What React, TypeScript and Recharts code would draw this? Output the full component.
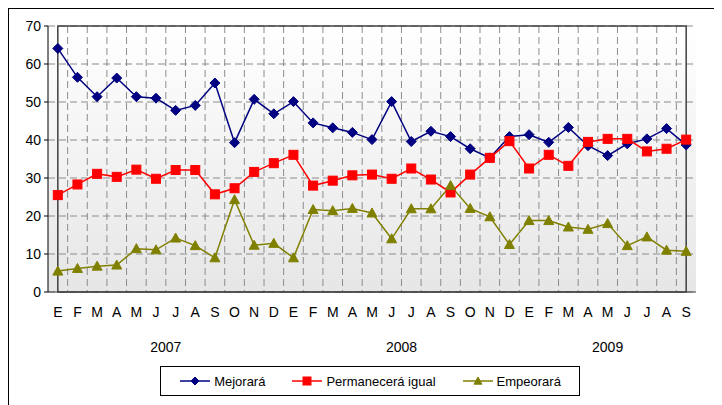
import React from 'react';
import {
  LineChart,
  Line,
  XAxis,
  YAxis,
  CartesianGrid,
  Legend,
  ReferenceArea,
} from 'recharts';

const months = [
  'E', 'F', 'M', 'A', 'M', 'J', 'J', 'A', 'S', 'O', 'N', 'D',
  'E', 'F', 'M', 'A', 'M', 'J', 'J', 'A', 'S', 'O', 'N', 'D',
  'E', 'F', 'M', 'A', 'M', 'J', 'J', 'A', 'S',
];
const years = ['2007', '2008', '2009'];
const yearStart = [0, 12, 24];
const yearLength = [12, 12, 9];

const mejorara = [
  64.1, 56.5, 51.4, 56.3, 51.4, 51.0, 47.8, 49.1, 55.0, 39.3, 50.7, 46.9,
  50.1, 44.5, 43.2, 42.0, 40.1, 50.1, 39.6, 42.3, 40.9, 37.7, 35.3, 40.9,
  41.4, 39.4, 43.3, 38.5, 35.9, 39.0, 40.3, 43.0, 38.7,
];
const permanecera = [
  25.5, 28.3, 31.1, 30.3, 32.2, 29.8, 32.1, 32.1, 25.7, 27.3, 31.6, 33.9,
  36.1, 28.0, 29.3, 30.7, 30.9, 29.8, 32.5, 29.6, 26.2, 30.9, 35.3, 39.7,
  32.5, 36.1, 33.2, 39.5, 40.3, 40.3, 37.0, 37.7, 40.1,
];
const empeorara = [
  5.5, 6.2, 6.8, 7.1, 11.4, 11.1, 14.2, 12.2, 9.0, 24.3, 12.3, 12.8,
  9.0, 21.7, 21.4, 22.0, 20.8, 14.0, 21.9, 21.9, 28.0, 22.0, 19.8, 12.5,
  18.8, 18.8, 17.1, 16.5, 18.0, 12.2, 14.5, 11.0, 10.7,
];
const yTicks = [0, 10, 20, 30, 40, 50, 60, 70];
const legendOrder = ['mejorara', 'permanecera', 'empeorara'];

const data = months.map((mes, i) => ({
  mes,
  mejorara: mejorara[i],
  permanecera: permanecera[i],
  empeorara: empeorara[i],
}));

const W = 709;
const H = 408;
const M = { top: 17, right: 22, left: 0, bottom: 55 };
const Y_W = 39;
const PLOT_W = W - M.left - M.right - Y_W;
const BAND = PLOT_W / months.length;
const FONT = '"Liberation Sans", Arial, sans-serif';

const NAVY = '#000080';
const RED = '#FF0000';
const OLIVE = '#808000';

const Diamond = ({ cx, cy, color, r = 5 }: any) => (
  <path d={`M${cx},${cy - r}L${cx + r},${cy}L${cx},${cy + r}L${cx - r},${cy}Z`} fill={color} stroke={color} />
);
const Square = ({ cx, cy, color, r = 4.5 }: any) => (
  <rect x={cx - r} y={cy - r} width={2 * r} height={2 * r} fill={color} stroke={color} />
);
const Triangle = ({ cx, cy, color, r = 5 }: any) => (
  <path d={`M${cx},${cy - r}L${cx + r},${cy + r * 0.8}L${cx - r},${cy + r * 0.8}Z`} fill={color} stroke={color} />
);

const shapes: Record<string, any> = {
  mejorara: Diamond,
  permanecera: Square,
  empeorara: Triangle,
};

const makeDot = (Shape: any, color: string) => (props: any) => (
  <Shape key={`dot-${props.index}`} cx={props.cx} cy={props.cy} color={color} />
);

// vertical dashed lines sit on the month boundaries, not on the tick centres
const boundaryLines = ({ offset }: any) => {
  const out: number[] = [];
  for (let i = 1; i < months.length; i++) out.push(offset.left + i * (offset.width / months.length));
  return out;
};

const YearTick = ({ x, y, payload }: any) => {
  const idx = payload.index;
  const k = yearStart.indexOf(idx);
  if (k < 0) return null;
  const cx = x + ((yearLength[k] - 1) / 2) * BAND;
  return (
    <text x={cx} y={y + 18} textAnchor="middle" fontSize={14} fontFamily={FONT} fill="#000">
      {years[k]}
    </text>
  );
};

const renderLegend = (props: any) => {
  const payload = [...(props.payload || [])].sort(
    (a: any, b: any) => legendOrder.indexOf(a.dataKey) - legendOrder.indexOf(b.dataKey)
  );
  return (
    <div style={{ display: 'flex', justifyContent: 'center', alignItems: 'center', height: '100%', gap: 26 }}>
      {payload.map((entry: any) => {
        const Shape = shapes[entry.dataKey];
        return (
          <div key={entry.dataKey} style={{ display: 'flex', alignItems: 'center' }}>
            <svg width={32} height={12}>
              <line x1={1} y1={6} x2={31} y2={6} stroke={entry.color} strokeWidth={1.5} />
              <Shape cx={16} cy={6} color={entry.color} r={4} />
            </svg>
            <span style={{ fontFamily: FONT, fontSize: 13, color: '#000', marginLeft: 3 }}>{entry.value}</span>
          </div>
        );
      })}
    </div>
  );
};

export default function App() {
  return (
    <div
      style={{
        width: W + 2,
        height: H + 2,
        border: '1px solid #000',
        boxSizing: 'border-box',
        background: '#fff',
        position: 'relative',
      }}
    >
      <LineChart width={W} height={H} data={data} margin={M}>
        <defs>
          <linearGradient id="plotBg" x1="0" y1="0" x2="0" y2="1">
            <stop offset="0%" stopColor="#ffffff" />
            <stop offset="100%" stopColor="#e6e6e6" />
          </linearGradient>
        </defs>
        <CartesianGrid
          stroke="#8c8c8c"
          strokeDasharray="7 4"
          fill="url(#plotBg)"
          verticalCoordinatesGenerator={boundaryLines}
        />
        <ReferenceArea y1={0} y2={70} fill="none" stroke="#404040" strokeWidth={1.5} />
        <XAxis
          dataKey="mes"
          interval={0}
          height={40}
          padding={{ left: BAND / 2, right: BAND / 2 }}
          tickLine={false}
          tickSize={0}
          tickMargin={15}
          axisLine={{ stroke: '#404040' }}
          tick={{ fontSize: 14, fontFamily: FONT, fill: '#000' }}
        />
        <XAxis
          xAxisId="year"
          dataKey="mes"
          interval={0}
          height={30}
          padding={{ left: BAND / 2, right: BAND / 2 }}
          tickLine={false}
          axisLine={false}
          tickSize={0}
          tick={<YearTick />}
        />
        <YAxis
          width={Y_W}
          domain={[0, 70]}
          ticks={yTicks}
          interval={0}
          tickSize={4}
          tickMargin={3}
          axisLine={{ stroke: '#000' }}
          tickLine={{ stroke: '#000' }}
          tick={{ fontSize: 14, fontFamily: FONT, fill: '#000' }}
        />
        <Legend
          layout="horizontal"
          verticalAlign="middle"
          align="center"
          content={renderLegend}
          wrapperStyle={{
            left: 151,
            top: 357,
            width: 420,
            height: 30,
            border: '1px solid #000',
            background: '#fff',
            boxSizing: 'border-box',
          }}
        />
        <Line
          dataKey="mejorara"
          name="Mejorará"
          stroke={NAVY}
          strokeWidth={1.5}
          dot={makeDot(Diamond, NAVY)}
          isAnimationActive={false}
        />
        <Line
          dataKey="permanecera"
          name="Permanecerá igual"
          stroke={RED}
          strokeWidth={1.5}
          dot={makeDot(Square, RED)}
          isAnimationActive={false}
        />
        <Line
          dataKey="empeorara"
          name="Empeorará"
          stroke={OLIVE}
          strokeWidth={1.5}
          dot={makeDot(Triangle, OLIVE)}
          isAnimationActive={false}
        />
      </LineChart>
    </div>
  );
}
